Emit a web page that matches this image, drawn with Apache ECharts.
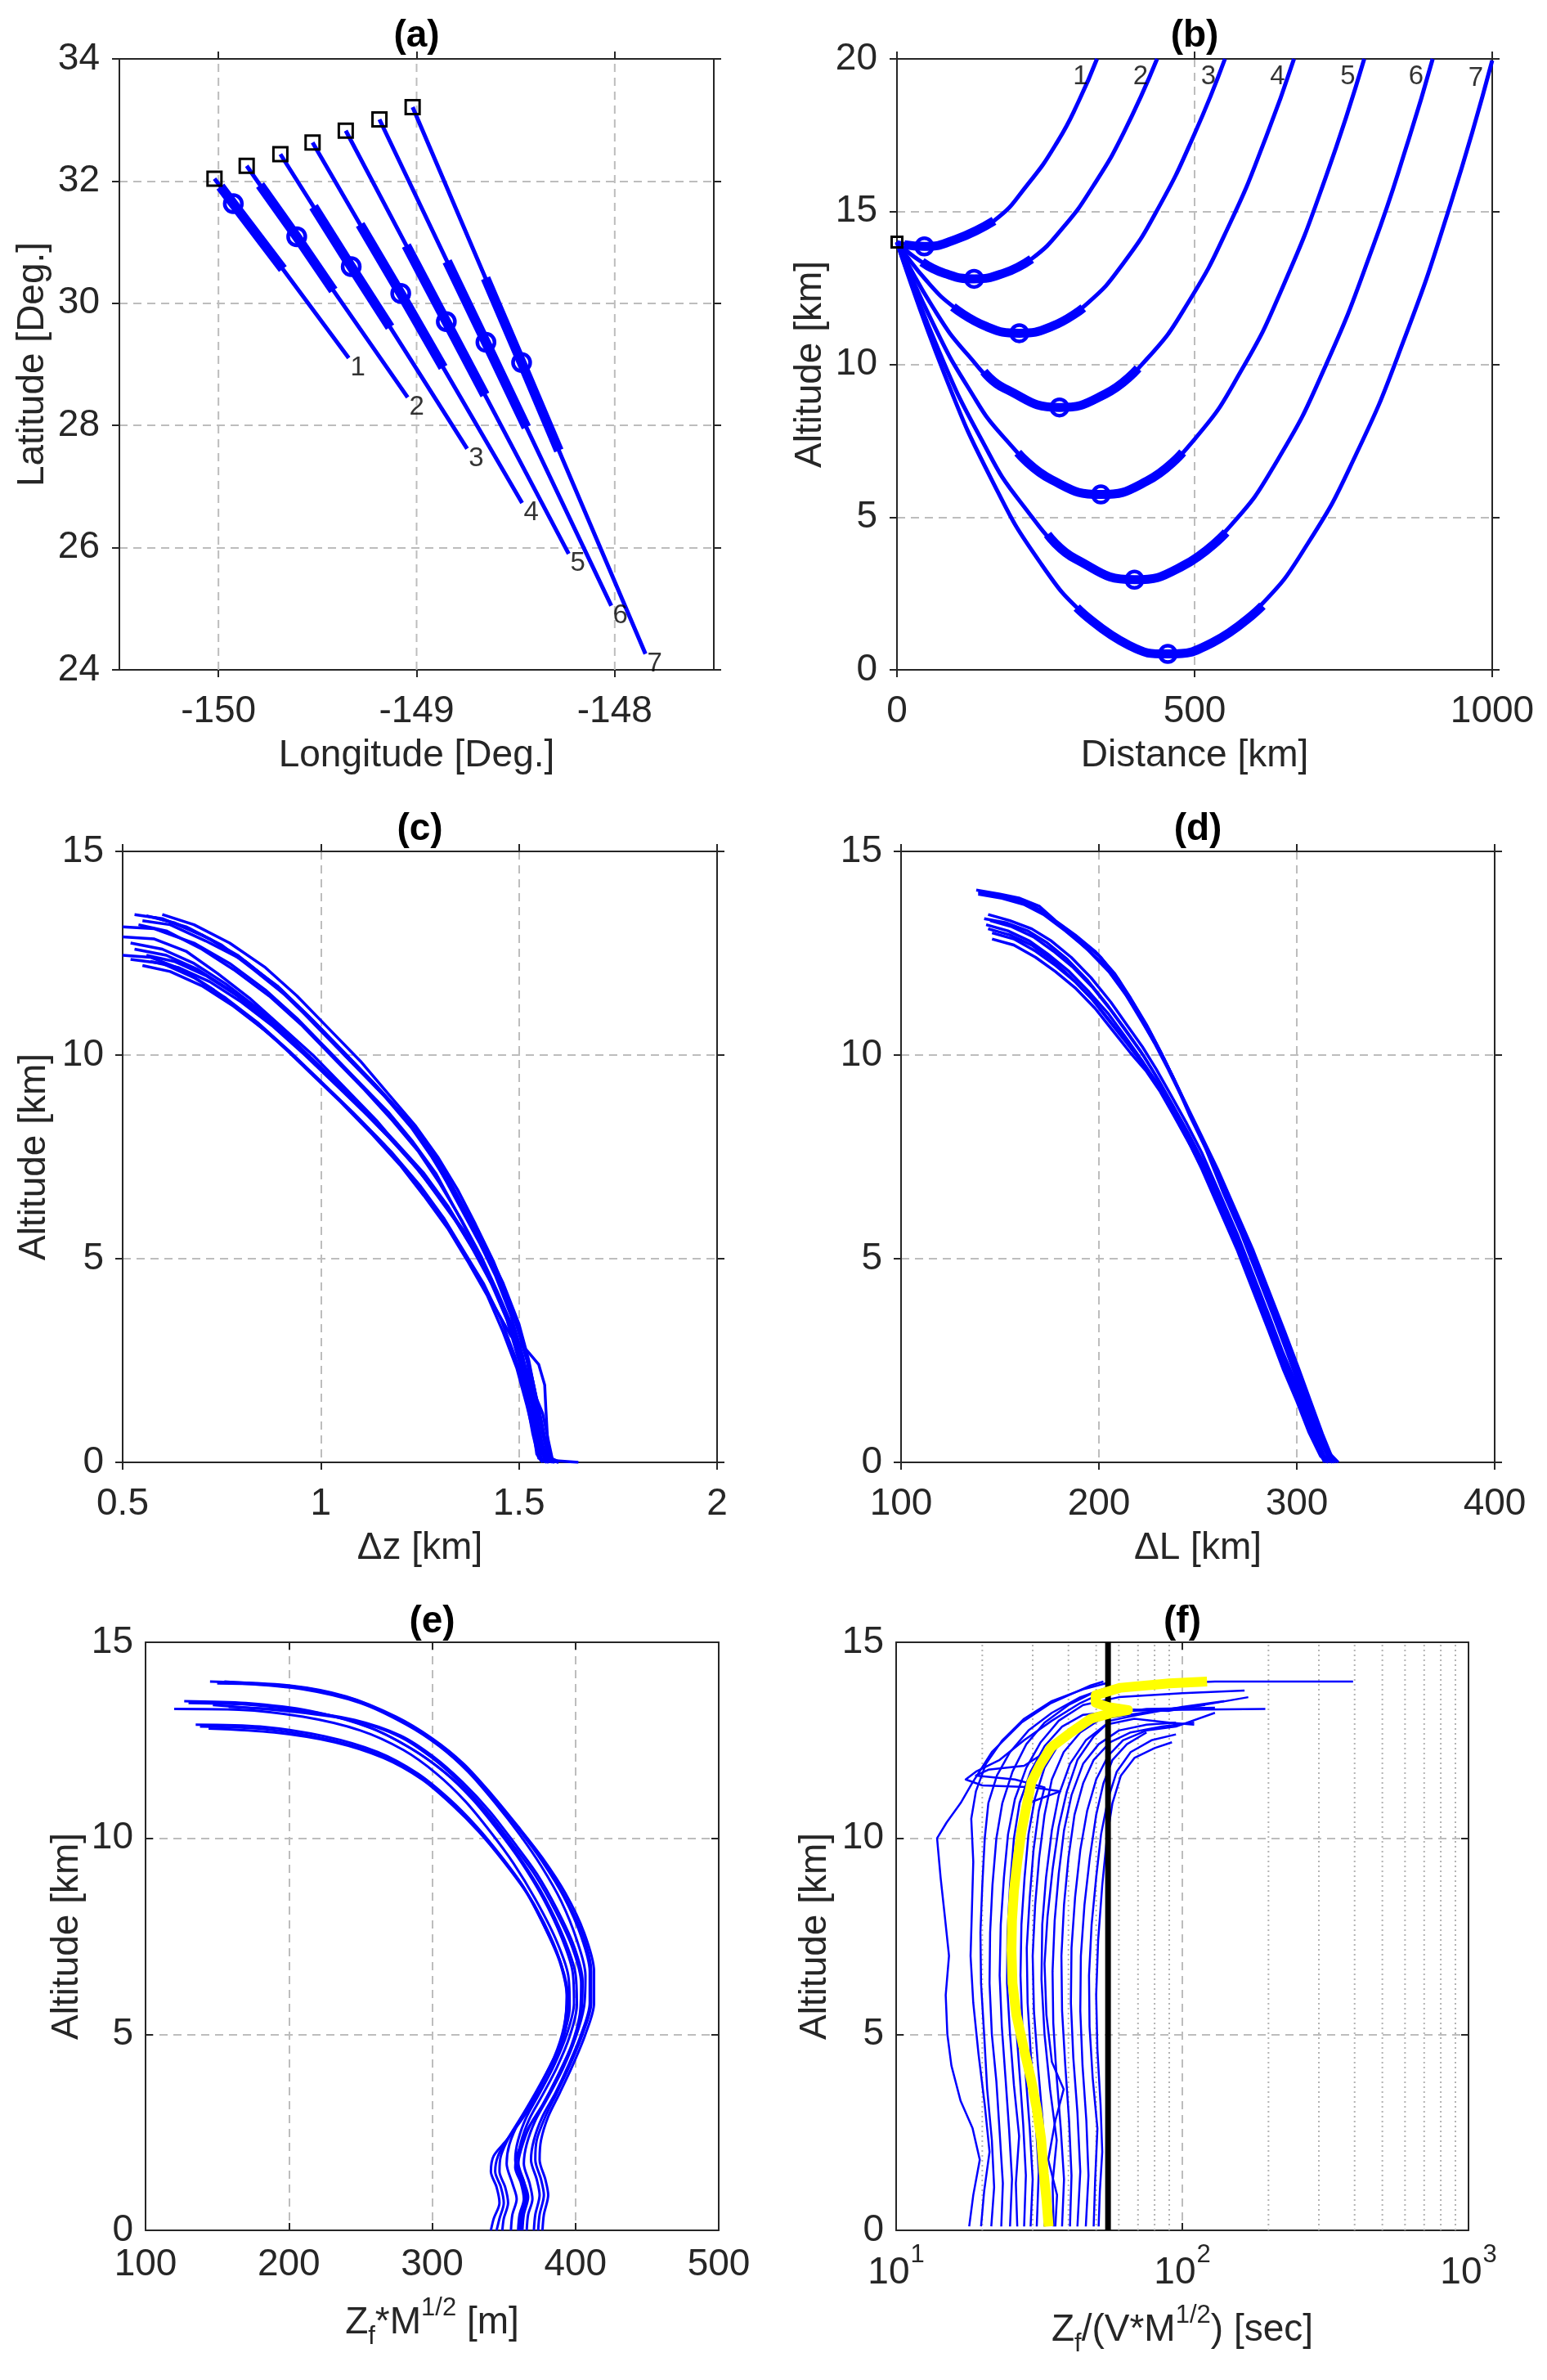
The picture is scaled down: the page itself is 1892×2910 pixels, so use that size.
<!DOCTYPE html>
<html>
<head>
<meta charset="utf-8">
<title>Trajectories</title>
<script src="https://cdn.jsdelivr.net/npm/echarts@6/dist/echarts.min.js"></script>
<style>
  html, body { margin: 0; padding: 0; background: #fff; }
  #chart { width: 1892px; height: 2910px; }
</style>
</head>
<body>
<div id="chart"></div>
<script>
// ---- data ----

// (a) ground tracks: [start, thick start, minimum, thick end, end] as [lon, lat]
var trackA = [
  [[-150.02, 32.04], [-149.99, 31.91], [-149.925, 31.63], [-149.675, 30.56], [-149.3425, 29.105]],
  [[-149.8575, 32.25], [-149.79, 31.935], [-149.605, 31.09], [-149.42, 30.21], [-149.045, 28.46]],
  [[-149.6875, 32.44], [-149.52, 31.58], [-149.33, 30.60], [-149.134, 29.61], [-148.745, 27.62]],
  [[-149.525, 32.63], [-149.285, 31.29], [-149.08, 30.16], [-148.866, 28.95], [-148.4675, 26.73]],
  [[-149.3575, 32.825], [-149.052, 30.945], [-148.85, 29.70], [-148.655, 28.50], [-148.2325, 25.90]],
  [[-149.1875, 33.01], [-148.846, 30.685], [-148.65, 29.36], [-148.446, 27.97], [-148.0175, 25.05]],
  [[-149.02, 33.21], [-148.652, 30.41], [-148.47, 29.03], [-148.282, 27.59], [-147.845, 24.26]]
];
var trackNames = ['1', '2', '3', '4', '5', '6', '7'];
var lonTicks = [-150, -149, -148];

// (b) altitude vs distance [km, km]
var bCurves = [
  [[0, 14.0], [25, 13.9], [46, 13.86], [100, 14.1], [163, 14.7], [220, 15.9], [270, 17.3], [305, 18.6], [336, 20.0]],
  [[0, 14.0], [40, 13.37], [80, 12.98], [129.5, 12.8], [180, 12.99], [226, 13.45], [280, 14.5], [330, 15.85], [380, 17.55], [437, 20.0]],
  [[0, 14.0], [50, 12.73], [100, 11.81], [150, 11.24], [205.5, 11.02], [260, 11.24], [320, 12.0], [380, 13.3], [440, 15.15], [500, 17.55], [551, 20.0]],
  [[0, 14.0], [60, 11.88], [120, 10.29], [180, 9.22], [273, 8.59], [350, 9.03], [420, 10.18], [490, 12.05], [560, 14.64], [620, 17.44], [667, 20.0]],
  [[0, 14.0], [60, 11.36], [120, 9.23], [180, 7.6], [260, 6.22], [342.5, 5.74], [420, 6.18], [500, 7.55], [580, 9.85], [650, 12.62], [720, 16.11], [785, 20.0]],
  [[0, 14.0], [70, 10.46], [140, 7.61], [210, 5.43], [300, 3.63], [399, 2.95], [480, 3.4], [560, 4.71], [640, 6.89], [720, 9.95], [800, 13.87], [860, 17.38], [900, 20.0]],
  [[0, 14.0], [80, 9.67], [160, 6.19], [240, 3.53], [320, 1.71], [390, 0.8], [455, 0.52], [530, 0.89], [610, 2.09], [690, 4.13], [770, 7.0], [850, 10.71], [930, 15.25], [1000, 19.95]]
];
var bThick = [
  [[12, 13.92], [46, 13.86], [100, 14.1], [163, 14.7]],
  [[42, 13.35], [80, 12.98], [129.5, 12.8], [180, 12.99], [226, 13.45]],
  [[94, 11.88], [150, 11.24], [205.5, 11.02], [260, 11.24], [313, 11.85]],
  [[146, 9.76], [180, 9.22], [273, 8.59], [350, 9.03], [405, 9.87]],
  [[203, 7.11], [260, 6.22], [342.5, 5.74], [420, 6.18], [480, 7.12]],
  [[253, 4.43], [300, 3.63], [399, 2.95], [480, 3.4], [553, 4.5]],
  [[302, 2.04], [390, 0.8], [455, 0.52], [530, 0.89], [614, 2.1]]
];
var bMin = [[46, 13.86], [129.5, 12.8], [205.5, 11.02], [273, 8.59], [342.5, 5.74], [399, 2.95], [455, 0.52]];
var bOrigin = [[0, 14.0]];

// (c) delta z [km] vs altitude [km]
var dzRuns = [
  [[0.53, 13.45], [0.6, 13.35], [0.7, 12.95], [0.79, 12.45], [0.88, 11.75], [0.96, 11.0], [1.04, 10.2], [1.12, 9.4], [1.19, 8.7], [1.25, 8.0], [1.3, 7.2], [1.35, 6.3], [1.4, 5.4], [1.44, 4.6], [1.48, 3.6], [1.51, 2.6], [1.53, 1.6], [1.545, 0.8], [1.56, 0.2], [1.6, 0.02]],
  [[0.56, 13.42], [0.63, 13.25], [0.72, 12.85], [0.81, 12.3], [0.9, 11.6], [0.98, 10.85], [1.06, 10.05], [1.14, 9.25], [1.21, 8.5], [1.27, 7.8], [1.32, 7.0], [1.37, 6.1], [1.42, 5.2], [1.46, 4.4], [1.5, 3.4], [1.525, 2.5], [1.545, 1.5], [1.56, 0.7], [1.575, 0.1], [1.58, 0]],
  [[0.5, 13.15], [0.58, 13.1], [0.68, 12.75], [0.77, 12.25], [0.86, 11.6], [0.94, 10.9], [1.02, 10.1], [1.1, 9.3], [1.17, 8.6], [1.23, 7.9], [1.29, 7.1], [1.34, 6.2], [1.39, 5.3], [1.43, 4.5], [1.47, 3.5], [1.5, 2.5], [1.52, 1.5], [1.535, 0.7], [1.55, 0.1], [1.57, 0]],
  [[0.58, 13.38], [0.66, 13.15], [0.75, 12.7], [0.83, 12.1], [0.92, 11.4], [1.0, 10.6], [1.08, 9.8], [1.16, 9.0], [1.23, 8.2], [1.28, 7.5], [1.33, 6.7], [1.38, 5.8], [1.43, 4.9], [1.47, 4.0], [1.505, 3.1], [1.53, 2.2], [1.55, 1.3], [1.565, 0.5], [1.58, 0.05], [1.65, 0]],
  [[0.55, 13.3], [0.62, 13.2], [0.71, 12.8], [0.8, 12.35], [0.89, 11.7], [0.97, 10.95], [1.05, 10.15], [1.13, 9.35], [1.2, 8.6], [1.26, 7.9], [1.31, 7.1], [1.36, 6.2], [1.41, 5.3], [1.45, 4.5], [1.49, 3.5], [1.52, 2.5], [1.54, 1.5], [1.555, 0.6], [1.57, 0.08], [1.6, 0]],
  [[0.6, 13.45], [0.68, 13.2], [0.77, 12.75], [0.86, 12.15], [0.94, 11.45], [1.02, 10.65], [1.1, 9.85], [1.17, 9.05], [1.24, 8.25], [1.295, 7.5], [1.345, 6.7], [1.39, 5.85], [1.435, 4.95], [1.475, 4.0], [1.51, 3.0], [1.535, 2.0], [1.555, 1.1], [1.57, 0.4], [1.585, 0.05], [1.6, 0]],
  [[0.54, 13.2], [0.61, 13.05], [0.7, 12.6], [0.78, 12.1], [0.87, 11.45], [0.95, 10.75], [1.03, 9.95], [1.11, 9.15], [1.18, 8.4], [1.245, 7.65], [1.3, 6.85], [1.355, 5.95], [1.405, 5.05], [1.445, 4.2], [1.485, 3.3], [1.515, 2.3], [1.535, 1.4], [1.55, 0.6], [1.565, 0.1], [1.575, 0]],
  [[0.5, 12.9], [0.58, 12.85], [0.66, 12.55], [0.74, 12.0], [0.82, 11.4], [0.9, 10.7], [0.98, 10.0], [1.06, 9.2], [1.14, 8.4], [1.21, 7.6], [1.27, 6.9], [1.33, 6.1], [1.38, 5.3], [1.43, 4.4], [1.47, 3.5], [1.5, 2.6], [1.52, 1.7], [1.535, 0.9], [1.545, 0.2], [1.56, 0]],
  [[0.52, 12.75], [0.6, 12.6], [0.68, 12.25], [0.76, 11.75], [0.84, 11.15], [0.92, 10.45], [1.0, 9.7], [1.08, 8.95], [1.16, 8.15], [1.23, 7.4], [1.29, 6.6], [1.35, 5.8], [1.4, 5.0], [1.44, 4.2], [1.48, 3.3], [1.51, 2.4], [1.53, 1.5], [1.545, 0.7], [1.555, 0.1], [1.57, 0]],
  [[0.53, 12.6], [0.61, 12.45], [0.69, 12.1], [0.77, 11.6], [0.85, 11.0], [0.93, 10.3], [1.01, 9.55], [1.09, 8.8], [1.17, 8.0], [1.24, 7.25], [1.3, 6.5], [1.36, 5.7], [1.41, 4.9], [1.45, 4.0], [1.49, 3.1], [1.52, 2.2], [1.54, 1.3], [1.55, 0.5], [1.565, 0.05], [1.59, 0]],
  [[0.5, 12.45], [0.57, 12.4], [0.65, 12.1], [0.73, 11.6], [0.81, 11.0], [0.89, 10.35], [0.97, 9.6], [1.05, 8.85], [1.13, 8.05], [1.2, 7.3], [1.26, 6.55], [1.32, 5.75], [1.37, 4.95], [1.42, 4.1], [1.46, 3.2], [1.495, 2.3], [1.52, 1.4], [1.54, 0.6], [1.555, 0.05], [1.575, 0]],
  [[0.56, 12.45], [0.63, 12.3], [0.71, 11.95], [0.79, 11.45], [0.87, 10.85], [0.95, 10.15], [1.03, 9.4], [1.11, 8.65], [1.19, 7.85], [1.26, 7.1], [1.32, 6.3], [1.37, 5.5], [1.42, 4.7], [1.46, 3.8], [1.5, 2.9], [1.525, 2.0], [1.545, 1.1], [1.56, 0.4], [1.575, 0.05], [1.585, 0]],
  [[0.52, 12.35], [0.6, 12.25], [0.68, 11.9], [0.76, 11.4], [0.84, 10.8], [0.92, 10.1], [1.0, 9.35], [1.08, 8.6], [1.16, 7.8], [1.23, 7.0], [1.29, 6.2], [1.345, 5.4], [1.395, 4.6], [1.44, 3.8], [1.48, 3.1], [1.52, 2.75], [1.55, 2.4], [1.565, 1.9], [1.568, 1.3], [1.572, 0.6], [1.58, 0.1], [1.6, 0]],
  [[0.57, 12.3], [0.64, 12.15], [0.72, 11.8], [0.8, 11.3], [0.88, 10.7], [0.96, 10.0], [1.04, 9.25], [1.12, 8.5], [1.2, 7.7], [1.27, 6.9], [1.33, 6.1], [1.38, 5.3], [1.43, 4.5], [1.47, 3.6], [1.505, 2.7], [1.53, 1.9], [1.56, 1.2], [1.575, 0.5], [1.585, 0.05], [1.59, 0]],
  [[0.55, 12.2], [0.62, 12.05], [0.7, 11.7], [0.78, 11.2], [0.86, 10.6], [0.94, 9.9], [1.02, 9.15], [1.1, 8.4], [1.18, 7.6], [1.25, 6.8], [1.31, 6.0], [1.36, 5.2], [1.41, 4.4], [1.455, 3.5], [1.49, 2.6], [1.515, 1.8], [1.535, 1.0], [1.55, 0.3], [1.56, 0]]
];

// (d) delta L [km] vs altitude [km]
var dLRuns = [
  [[138, 14.05], [150, 13.95], [160, 13.85], [170, 13.65], [178, 13.3], [188, 12.95], [198, 12.55], [208, 12.0], [216, 11.4], [224, 10.75], [231, 10.1], [238, 9.4], [246, 8.5], [254, 7.7], [263, 6.6], [272, 5.6], [280, 4.6], [288, 3.6], [295, 2.7], [301, 1.9], [307, 1.1], [313, 0.4], [317, 0]],
  [[140, 14.0], [152, 13.9], [163, 13.75], [172, 13.5], [181, 13.15], [191, 12.8], [201, 12.4], [210, 11.85], [218, 11.2], [226, 10.55], [233, 9.9], [240, 9.2], [248, 8.35], [256, 7.55], [265, 6.5], [274, 5.5], [282, 4.5], [290, 3.5], [297, 2.6], [303, 1.8], [309, 1.0], [315, 0.3], [319, 0]],
  [[139, 14.0], [150, 13.92], [161, 13.8], [171, 13.55], [180, 13.2], [190, 12.85], [200, 12.45], [209, 11.9], [217, 11.3], [225, 10.65], [232, 10.0], [239, 9.3], [247, 8.45], [255, 7.6], [264, 6.55], [273, 5.55], [281, 4.55], [289, 3.55], [296, 2.65], [302, 1.85], [308, 1.05], [314, 0.35], [318, 0]],
  [[139, 13.95], [151, 13.85], [162, 13.7], [172, 13.45], [183, 13.05], [193, 12.65], [203, 12.2], [212, 11.6], [220, 11.0], [228, 10.3], [235, 9.65], [242, 8.95], [250, 8.15], [258, 7.35], [267, 6.3], [276, 5.3], [284, 4.3], [292, 3.3], [299, 2.4], [305, 1.6], [311, 0.8], [317, 0.2], [321, 0]],
  [[141, 13.95], [153, 13.88], [165, 13.7], [175, 13.4], [185, 13.0], [195, 12.55], [205, 12.05], [214, 11.45], [222, 10.8], [230, 10.15], [237, 9.5], [244, 8.8], [252, 8.0], [260, 7.2], [269, 6.2], [278, 5.2], [286, 4.2], [294, 3.2], [301, 2.3], [307, 1.5], [313, 0.7], [318, 0.1], [320, 0]],
  [[144, 13.45], [155, 13.3], [166, 13.1], [176, 12.8], [186, 12.4], [196, 11.9], [206, 11.3], [214, 10.75], [222, 10.2], [229, 9.65], [236, 9.05], [244, 8.35], [252, 7.6], [261, 6.6], [270, 5.6], [278, 4.6], [286, 3.6], [293, 2.7], [300, 1.9], [306, 1.1], [312, 0.35], [315, 0]],
  [[142, 13.35], [153, 13.25], [164, 13.05], [174, 12.75], [184, 12.35], [194, 11.85], [204, 11.25], [213, 10.65], [221, 10.1], [228, 9.55], [235, 8.95], [243, 8.25], [251, 7.5], [260, 6.5], [269, 5.5], [277, 4.5], [285, 3.5], [292, 2.6], [299, 1.8], [305, 1.0], [311, 0.3], [314, 0]],
  [[145, 13.3], [156, 13.15], [167, 12.9], [177, 12.55], [187, 12.15], [197, 11.65], [206, 11.1], [215, 10.5], [223, 9.95], [230, 9.4], [237, 8.8], [245, 8.1], [253, 7.35], [262, 6.4], [271, 5.4], [279, 4.4], [287, 3.4], [294, 2.5], [301, 1.7], [307, 0.9], [313, 0.2], [315, 0]],
  [[143, 13.2], [154, 13.05], [165, 12.8], [175, 12.45], [185, 12.05], [195, 11.55], [205, 11.0], [214, 10.4], [222, 9.85], [229, 9.3], [236, 8.7], [244, 8.0], [252, 7.2], [261, 6.2], [270, 5.2], [278, 4.2], [286, 3.2], [293, 2.3], [300, 1.5], [306, 0.75], [312, 0.15], [316, 0]],
  [[144, 13.1], [155, 12.95], [166, 12.7], [176, 12.35], [186, 11.9], [196, 11.4], [205, 10.85], [214, 10.3], [222, 9.8], [229, 9.3], [236, 8.7], [244, 8.0], [252, 7.25], [261, 6.3], [270, 5.3], [278, 4.3], [286, 3.3], [293, 2.4], [300, 1.6], [306, 0.85], [312, 0.2], [316, 0]],
  [[146, 13.0], [157, 12.85], [168, 12.55], [178, 12.2], [188, 11.8], [198, 11.3], [207, 10.75], [216, 10.2], [224, 9.7], [231, 9.2], [238, 8.6], [246, 7.9], [254, 7.15], [263, 6.2], [272, 5.2], [280, 4.2], [288, 3.2], [295, 2.3], [302, 1.5], [308, 0.8], [314, 0.15], [319, 0]],
  [[146, 12.85], [157, 12.7], [168, 12.4], [178, 12.05], [188, 11.65], [198, 11.15], [207, 10.6], [216, 10.05], [224, 9.6], [231, 9.1], [238, 8.5], [246, 7.8], [254, 7.05], [263, 6.1], [272, 5.1], [280, 4.1], [288, 3.1], [295, 2.2], [302, 1.4], [308, 0.7], [314, 0.1], [318, 0]]
];

// (e) Zf*M^1/2 [m] vs altitude [km]
var zfRuns = [
  [[145, 14.0], [200, 13.9], [240, 13.62], [275, 13.1], [300, 12.55], [322, 11.9], [342, 11.1], [360, 10.3], [377, 9.5], [393, 8.6], [406, 7.6], [413, 6.6], [413, 5.8], [407, 5.0], [398, 4.2], [389, 3.5], [381, 2.9], [376, 2.3], [375, 1.8], [379, 1.3], [381, 0.9], [378, 0.4], [377, 0]],
  [[150, 13.95], [202, 13.88], [242, 13.58], [276, 13.05], [301, 12.5], [322, 11.85], [342, 11.05], [360, 10.25], [377, 9.45], [392, 8.55], [405, 7.55], [411, 6.6], [411, 5.8], [405, 5.0], [396, 4.2], [387, 3.5], [379, 2.9], [373, 2.3], [372, 1.8], [376, 1.3], [378, 0.9], [375, 0.4], [374, 0]],
  [[155, 14.0], [205, 13.85], [245, 13.55], [278, 13.0], [302, 12.45], [323, 11.8], [343, 11.0], [361, 10.2], [377, 9.4], [392, 8.5], [404, 7.5], [410, 6.6], [410, 5.8], [404, 5.0], [395, 4.2], [386, 3.5], [377, 2.9], [371, 2.3], [369, 1.8], [373, 1.3], [375, 0.9], [372, 0.4], [371, 0]],
  [[165, 13.95], [210, 13.8], [250, 13.45], [282, 12.9], [305, 12.35], [325, 11.7], [344, 10.9], [361, 10.1], [376, 9.3], [390, 8.4], [401, 7.4], [407, 6.5], [406, 5.7], [400, 4.9], [391, 4.1], [381, 3.4], [372, 2.8], [366, 2.2], [364, 1.7], [368, 1.2], [370, 0.8], [367, 0.4], [366, 0]],
  [[127, 13.5], [170, 13.45], [215, 13.25], [255, 12.85], [285, 12.3], [308, 11.7], [328, 11.0], [346, 10.2], [362, 9.4], [377, 8.5], [390, 7.5], [398, 6.6], [399, 5.8], [394, 5.0], [385, 4.2], [375, 3.5], [366, 2.9], [360, 2.3], [358, 1.8], [362, 1.3], [365, 0.9], [362, 0.4], [361, 0]],
  [[130, 13.45], [175, 13.4], [220, 13.2], [258, 12.8], [287, 12.25], [310, 11.65], [330, 10.95], [348, 10.15], [364, 9.35], [379, 8.45], [392, 7.45], [400, 6.55], [401, 5.75], [396, 4.95], [387, 4.15], [377, 3.45], [368, 2.85], [362, 2.25], [360, 1.75], [364, 1.25], [367, 0.85], [364, 0.4], [363, 0]],
  [[120, 13.3], [165, 13.28], [210, 13.1], [250, 12.75], [280, 12.25], [303, 11.65], [323, 10.95], [341, 10.15], [357, 9.35], [372, 8.45], [386, 7.45], [395, 6.5], [396, 5.7], [391, 4.9], [381, 4.1], [371, 3.4], [361, 2.8], [354, 2.2], [352, 1.7], [356, 1.2], [359, 0.8], [356, 0.4], [355, 0]],
  [[147, 13.4], [205, 13.22], [245, 13.0], [277, 12.6], [300, 12.05], [320, 11.4], [339, 10.65], [356, 9.85], [372, 9.05], [386, 8.15], [398, 7.2], [404, 6.3], [403, 5.5], [397, 4.7], [387, 3.9], [377, 3.2], [367, 2.6], [360, 2.0], [358, 1.6], [362, 1.2], [364, 0.8], [361, 0.4], [360, 0]],
  [[158, 13.35], [206, 13.25], [246, 13.02], [278, 12.62], [301, 12.08], [321, 11.44], [340, 10.7], [357, 9.9], [373, 9.1], [387, 8.2], [399, 7.25], [405, 6.35], [404, 5.55], [398, 4.75], [388, 3.95], [378, 3.25], [368, 2.65], [362, 2.05], [360, 1.65], [364, 1.25], [366, 0.85], [363, 0.45], [362, 0]],
  [[135, 12.9], [180, 12.85], [225, 12.6], [262, 12.2], [290, 11.65], [312, 11.0], [331, 10.3], [348, 9.55], [364, 8.75], [378, 7.85], [389, 6.9], [394, 6.0], [392, 5.2], [385, 4.4], [375, 3.7], [364, 3.0], [354, 2.4], [348, 1.9], [347, 1.5], [351, 1.1], [353, 0.7], [350, 0.3], [349, 0]],
  [[138, 12.85], [185, 12.78], [228, 12.52], [264, 12.12], [291, 11.58], [313, 10.92], [332, 10.22], [349, 9.48], [365, 8.68], [378, 7.78], [389, 6.85], [394, 5.95], [392, 5.15], [385, 4.35], [375, 3.65], [364, 2.95], [353, 2.35], [346, 1.9], [344, 1.5], [348, 1.1], [350, 0.7], [347, 0.3], [345, 0]],
  [[144, 12.8], [190, 12.7], [232, 12.45], [266, 12.05], [293, 11.5], [314, 10.85], [333, 10.15], [350, 9.4], [366, 8.6], [379, 7.7], [390, 6.8], [395, 5.9], [393, 5.1], [386, 4.3], [376, 3.6], [364, 2.9], [352, 2.3], [343, 1.9], [341, 1.5], [345, 1.1], [347, 0.7], [343, 0.3], [341, 0]]
];

// (f) Zf/(V*M^1/2) [sec] vs altitude [km]
var tauRuns = [
  [[18, 0.1], [18.6, 0.9], [19.6, 1.8], [18.5, 2.6], [16.8, 3.3], [15.6, 4.2], [15.1, 5.0], [14.9, 6.0], [15.3, 7.0], [14.8, 8.0], [14.3, 9.0], [13.9, 10.0], [15.0, 10.4], [16.8, 10.9], [18.4, 11.4], [21.6, 12.2], [27.4, 12.95], [34.8, 13.45], [47.9, 13.9], [53, 14.0]],
  [[19.8, 0.1], [20.3, 1.0], [21.2, 2.0], [20.4, 3.2], [19.4, 4.5], [18.6, 5.8], [18.2, 7.0], [18.4, 8.2], [18.6, 9.4], [18.3, 10.5], [19.0, 11.2], [20.6, 11.9], [23.5, 12.5], [28, 13.05], [35, 13.5], [45, 13.8], [54, 13.95]],
  [[21.5, 0.1], [22.0, 1.1], [21.6, 2.3], [20.8, 3.6], [20.3, 5.0], [19.8, 6.3], [19.7, 7.6], [20.0, 8.8], [20.4, 10.0], [21.0, 10.9], [22.5, 11.6], [25, 12.2], [29, 12.75], [35, 13.2], [44, 13.6], [55, 13.85]],
  [[23.3, 0.1], [23.6, 1.2], [23.0, 2.5], [22.4, 3.8], [21.6, 5.0], [21.2, 6.3], [21.3, 7.6], [21.7, 8.8], [22.4, 10.0], [23.5, 10.9], [25.5, 11.7], [28.5, 12.4], [33, 12.95], [40, 13.4], [50, 13.75], [70, 13.92], [130, 14.0], [395, 14.0]],
  [[25, 0.1], [25.4, 1.3], [24.8, 2.6], [24.1, 3.9], [23.4, 5.2], [23.0, 6.5], [23.2, 7.8], [23.8, 9.0], [24.6, 10.1], [26, 11.0], [28.5, 11.8], [32, 12.45], [37, 13.0], [45, 13.4], [60, 13.6], [100, 13.7], [165, 13.77]],
  [[26.5, 0.1], [26.2, 1.2], [26.9, 2.4], [25.8, 3.7], [25.0, 5.0], [24.4, 6.3], [24.5, 7.6], [25.0, 8.8], [25.8, 10.0], [27, 10.9], [29.5, 11.7], [33, 12.35], [38, 12.85], [45, 13.15], [60, 13.25], [100, 13.28], [195, 13.3]],
  [[28, 0.1], [28.4, 1.4], [27.8, 2.7], [27.0, 4.0], [26.2, 5.3], [25.6, 6.6], [25.7, 7.9], [26.3, 9.1], [27.2, 10.2], [29, 10.9], [37.5, 11.2], [30, 11.3], [20, 11.35], [17.5, 11.5], [19, 11.7], [23, 12.0], [28, 12.5], [35, 13.0], [44, 13.45], [54, 13.75]],
  [[29.5, 0.1], [30, 1.3], [29.3, 2.6], [28.4, 3.9], [27.6, 5.2], [27.2, 6.5], [27.4, 7.8], [28.1, 9.0], [29, 10.1], [30.5, 11.0], [33, 11.8], [37, 12.4], [43, 12.85], [52, 13.15], [75, 13.3], [130, 13.33]],
  [[31, 0.1], [31.5, 1.5], [30.6, 3.0], [29.6, 4.4], [28.8, 5.8], [28.6, 7.2], [29.3, 8.5], [30.2, 9.7], [31.5, 10.7], [33, 11.3], [26, 11.5], [19, 11.6], [21, 11.75], [28, 11.85], [35, 12.3], [42, 12.8], [50, 13.15], [60, 13.3], [90, 13.25], [170, 13.6]],
  [[33, 0.1], [33.5, 1.4], [32.5, 2.8], [31.3, 4.2], [30.3, 5.6], [30.0, 7.0], [30.6, 8.3], [31.6, 9.5], [33, 10.6], [35, 11.5], [38.5, 12.2], [44, 12.7], [52, 13.05], [65, 13.15], [90, 13.3], [120, 13.4]],
  [[35.5, 0.1], [35.2, 1.2], [36.4, 2.3], [34.5, 3.6], [33, 5.0], [32.2, 6.4], [32.4, 7.8], [33.4, 9.0], [35, 10.2], [37, 11.1], [40.5, 11.9], [46, 12.5], [54, 12.9], [68, 13.05], [90, 12.95], [110, 12.9]],
  [[36, 0.1], [36.5, 0.9], [34, 1.8], [36, 2.8], [38.5, 3.6], [35, 4.3], [33.5, 5.5], [33, 6.8], [33.8, 8.0], [35.2, 9.2], [37, 10.3], [39.5, 11.2], [43, 12.0], [49, 12.6], [56, 13.0], [70, 13.15], [100, 13.35], [140, 13.5]],
  [[38, 0.1], [38.6, 1.3], [37.6, 2.6], [36.3, 4.0], [35.4, 5.3], [35.2, 6.6], [35.8, 7.9], [37, 9.1], [38.6, 10.2], [41, 11.1], [45, 11.9], [51, 12.4], [60, 12.75], [75, 12.9], [95, 12.95]],
  [[40.5, 0.1], [41, 1.4], [40.2, 2.8], [39, 4.2], [38, 5.6], [37.8, 7.0], [38.6, 8.3], [40, 9.5], [42, 10.6], [45, 11.4], [49, 12.0], [56, 12.45], [66, 12.7], [85, 12.85], [110, 12.95]],
  [[43, 0.1], [44, 1.5], [43, 3.0], [41.6, 4.4], [40.8, 5.8], [41, 7.2], [42.2, 8.5], [44, 9.7], [46.5, 10.7], [50, 11.5], [55, 12.1], [62, 12.5], [75, 12.75], [95, 12.85], [130, 13.2]],
  [[46, 0.1], [47, 1.4], [46.2, 2.8], [44.8, 4.2], [44, 5.6], [44.2, 7.0], [45.5, 8.3], [47.5, 9.5], [50, 10.6], [53, 11.4], [57, 12.0], [64, 12.4], [75, 12.7]],
  [[49, 0.1], [49.6, 1.3], [50.5, 2.6], [48.6, 3.9], [47.4, 5.2], [47.2, 6.5], [48.2, 7.8], [50, 9.0], [52, 10.1], [55, 11.0], [59, 11.7], [66, 12.2], [78, 12.5], [95, 12.65]],
  [[51, 0.1], [51.5, 1.0], [52.5, 2.0], [51.8, 3.2], [50.5, 4.6], [50, 6.0], [50.8, 7.4], [52.5, 8.8], [54.5, 10.0], [57, 10.9], [61, 11.6], [68, 12.05], [80, 12.3], [92, 12.45]]
];
var tauMean = [[34.1, 0.1], [33.5, 0.8], [32.8, 1.45], [32.1, 2.34], [31, 3.1], [29.6, 3.85], [27.8, 4.7], [26.3, 5.5], [25.5, 6.3], [25.3, 7.14], [25.4, 7.9], [25.8, 8.66], [26.5, 9.4], [27.4, 10.17], [28.5, 10.8], [29.7, 11.44], [32, 11.9], [34.8, 12.32], [40.8, 12.7], [47.9, 13.05], [57, 13.2], [64.6, 13.27], [55, 13.35], [49.8, 13.46], [49.8, 13.65], [60.8, 13.84], [90, 13.95], [122, 14.0]];
var tauRef = [[55, 0], [55, 15]];
var tauMinor = [20, 30, 40, 50, 60, 70, 80, 90, 200, 300, 400, 500, 600, 700, 800, 900];

// ---- styling ----
var FONT = '"Liberation Sans", Arial, Helvetica, sans-serif';
var FS = 46;
var INK = '#262626';
var BLUE = '#0000ff';
var GRID_C = '#bdbdbd';
var DASH = [10, 7];

var panels = [
  { grid: { left: 146, top: 72, width: 727, height: 747 }, title: '(a)', titleY: 44, out: true,
    x: { min: -150.5, max: -147.5, ticks: lonTicks, name: 'Longitude [Deg.]', gap: 82, margin: 28 },
    y: { min: 24, max: 34, interval: 2, name: 'Latitude [Deg.]', gap: 83, margin: 24 } },
  { grid: { left: 1097, top: 72, width: 728, height: 747 }, title: '(b)', titleY: 44, out: true,
    x: { min: 0, max: 1000, interval: 500, name: 'Distance [km]', gap: 82, margin: 28 },
    y: { min: 0, max: 20, interval: 5, name: 'Altitude [km]', gap: 83, margin: 24 } },
  { grid: { left: 150, top: 1041, width: 727, height: 747 }, title: '(c)', titleY: 1014, out: true,
    x: { min: 0.5, max: 2, interval: 0.5, name: '\u0394z [km]', gap: 82, margin: 28 },
    y: { min: 0, max: 15, interval: 5, name: 'Altitude [km]', gap: 85, margin: 23 } },
  { grid: { left: 1102, top: 1041, width: 726, height: 747 }, title: '(d)', titleY: 1014, out: true,
    x: { min: 100, max: 400, interval: 100, name: '\u0394L [km]', gap: 82, margin: 28 },
    y: { min: 0, max: 15, interval: 5, name: '', gap: 85, margin: 23 } },
  { grid: { left: 178, top: 2008, width: 701, height: 719 }, title: '(e)', titleY: 1983, out: false,
    x: { min: 100, max: 500, interval: 100, name: '{n|Z}{sub|f}{n|*M}{sup|1/2}{n| [m]}', gap: 80, margin: 19 },
    y: { min: 0, max: 15, interval: 5, name: 'Altitude [km]', gap: 73, margin: 15 } },
  { grid: { left: 1096, top: 2008, width: 700, height: 719 }, title: '(f)', titleY: 1983, out: false,
    x: { log: true, min: 10, max: 1000, name: '{n|Z}{sub|f}{n|/(V*M}{sup|1/2}{n|) [sec]}', gap: 89, margin: 22 },
    y: { min: 0, max: 15, interval: 5, name: 'Altitude [km]', gap: 76, margin: 15 } }
];

var nameRich = {
  n: { fontSize: FS, lineHeight: 66, fontFamily: FONT, color: INK },
  sub: { fontSize: 31, lineHeight: 31, padding: [35, 0, 0, 0], fontFamily: FONT, color: INK },
  sup: { fontSize: 31, lineHeight: 31, padding: [0, 0, 35, 0], fontFamily: FONT, color: INK }
};
var tickRich = {
  b: { fontSize: FS, lineHeight: FS, padding: [15, 0, 0, 0], fontFamily: FONT, color: INK },
  s: { fontSize: 31, lineHeight: 31, padding: [0, 0, 30, 1], fontFamily: FONT, color: INK }
};
function plainFmt(v) { return String(v); }
function logFmt(v) { return '{b|10}{s|' + Math.round(Math.log10(v)) + '}'; }

function axisCommon(p, s, mirror) {
  return {
    axisLine: { show: true, onZero: false, lineStyle: { color: INK, width: 2 } },
    axisTick: { show: true, inside: !p.out, length: 9, lineStyle: { color: INK, width: 2 } },
    axisLabel: { show: !mirror, color: INK, fontSize: FS, fontFamily: FONT, margin: s.margin,
      formatter: s.log ? logFmt : plainFmt, rich: tickRich },
    splitLine: { show: !mirror && !s.ticks, lineStyle: { color: GRID_C, width: 2, type: DASH } },
    name: mirror ? '' : s.name,
    nameLocation: 'middle',
    nameGap: s.gap,
    nameTextStyle: { color: INK, fontSize: FS, fontFamily: FONT, rich: nameRich }
  };
}

function makeX(p, k, mirror) {
  var s = p.x;
  var ax = Object.assign({
    gridIndex: k, type: s.log ? 'log' : 'value', min: s.min, max: s.max,
    position: mirror ? 'top' : 'bottom'
  }, axisCommon(p, s, mirror));
  if (s.log) ax.logBase = 10;
  if (s.interval) ax.interval = s.interval;
  if (s.ticks) { ax.axisTick.customValues = s.ticks; ax.axisLabel.customValues = s.ticks; }
  return ax;
}

function makeY(p, k, mirror) {
  var s = p.y;
  return Object.assign({
    gridIndex: k, type: 'value', min: s.min, max: s.max, interval: s.interval,
    position: mirror ? 'right' : 'left'
  }, axisCommon(p, s, mirror));
}

function lineS(k, data, color, width, extra) {
  return Object.assign({
    type: 'line', xAxisIndex: k, yAxisIndex: k, data: data,
    symbol: 'none', showSymbol: false, silent: true, z: 2,
    lineStyle: { color: color, width: width, cap: 'butt', join: 'round' },
    itemStyle: { color: color }, emphasis: { disabled: true }
  }, extra || {});
}

function gridS(k, data, dash, width, color) {
  return lineS(k, data, color, width, { z: 1, lineStyle: { color: color, width: width, type: dash } });
}

function markS(k, pts, shape, size, color, bw) {
  return {
    type: 'scatter', xAxisIndex: k, yAxisIndex: k, data: pts, symbol: shape, symbolSize: size,
    silent: true, z: 4,
    itemStyle: { color: 'rgba(0,0,0,0)', borderColor: color, borderWidth: bw, opacity: 1 }
  };
}

function labelS(k, pts, names, pos, offset) {
  return {
    type: 'scatter', xAxisIndex: k, yAxisIndex: k, data: pts, symbolSize: 0, silent: true, z: 5,
    label: { show: true, position: pos, distance: 2, offset: offset, color: '#000', fontSize: 33,
      fontFamily: FONT, formatter: function (q) { return names[q.dataIndex]; } }
  };
}

var series = [];

// (a) longitude grid lines (the axis is offset by half a degree)
lonTicks.forEach(function (v) {
  series.push(gridS(0, [[v, panels[0].y.min], [v, panels[0].y.max]], DASH, 2, GRID_C));
});
trackA.forEach(function (t) {
  series.push(lineS(0, t, BLUE, 5));
  series.push(lineS(0, t.slice(1, 4), BLUE, 12));
});
series.push(markS(0, trackA.map(function (t) { return t[2]; }), 'circle', 21, BLUE, 4.5));
series.push(markS(0, trackA.map(function (t) { return t[0]; }), 'rect', 17, '#000', 3));
series.push(labelS(0, trackA.map(function (t) { return t[4]; }), trackNames, 'right', [0, 12]));

// (b)
bCurves.forEach(function (c) { series.push(lineS(1, c, BLUE, 5, { smooth: true })); });
bThick.forEach(function (c) { series.push(lineS(1, c, BLUE, 11, { smooth: true })); });
series.push(markS(1, bMin, 'circle', 20, BLUE, 4.5));
series.push(markS(1, bOrigin, 'rect', 13, '#000', 3));
series.push(labelS(1, bCurves.map(function (c) { return c[c.length - 1]; }), trackNames, 'left', [-9, 22]));

// (c), (d), (e)
dzRuns.forEach(function (r) { series.push(lineS(2, r, BLUE, 3.5)); });
dLRuns.forEach(function (r) { series.push(lineS(3, r, BLUE, 3.5)); });
zfRuns.forEach(function (r) { series.push(lineS(4, r, BLUE, 3, { smooth: 0.3 })); });

// (f)
tauMinor.forEach(function (v) {
  series.push(gridS(5, [[v, panels[5].y.min], [v, panels[5].y.max]], [2, 4], 2, '#b3b3b3'));
});
tauRuns.forEach(function (r) { series.push(lineS(5, r, BLUE, 2.5)); });
series.push(lineS(5, tauRef, '#000', 7, { z: 3 }));
series.push(lineS(5, tauMean, '#ffff00', 12, { z: 3 }));

var option = {
  animation: false,
  backgroundColor: '#fff',
  textStyle: { fontFamily: FONT },
  grid: panels.map(function (p) {
    return Object.assign({ containLabel: false, outerBoundsMode: 'none' }, p.grid);
  }),
  xAxis: panels.map(function (p, k) { return makeX(p, k, false); })
    .concat(panels.map(function (p, k) { return makeX(p, k, true); })),
  yAxis: panels.map(function (p, k) { return makeY(p, k, false); })
    .concat(panels.map(function (p, k) { return makeY(p, k, true); })),
  graphic: {
    elements: panels.map(function (p) {
      return {
        type: 'text', silent: true,
        x: p.grid.left + p.grid.width / 2, y: p.titleY,
        style: { text: p.title, fill: '#000', fontSize: FS, fontWeight: 'bold', fontFamily: FONT,
          align: 'center', verticalAlign: 'middle', textAlign: 'center', textVerticalAlign: 'middle' }
      };
    })
  },
  series: series
};

var chart = echarts.init(document.getElementById('chart'), null, { renderer: 'canvas' });
chart.setOption(option);
</script>
</body>
</html>
